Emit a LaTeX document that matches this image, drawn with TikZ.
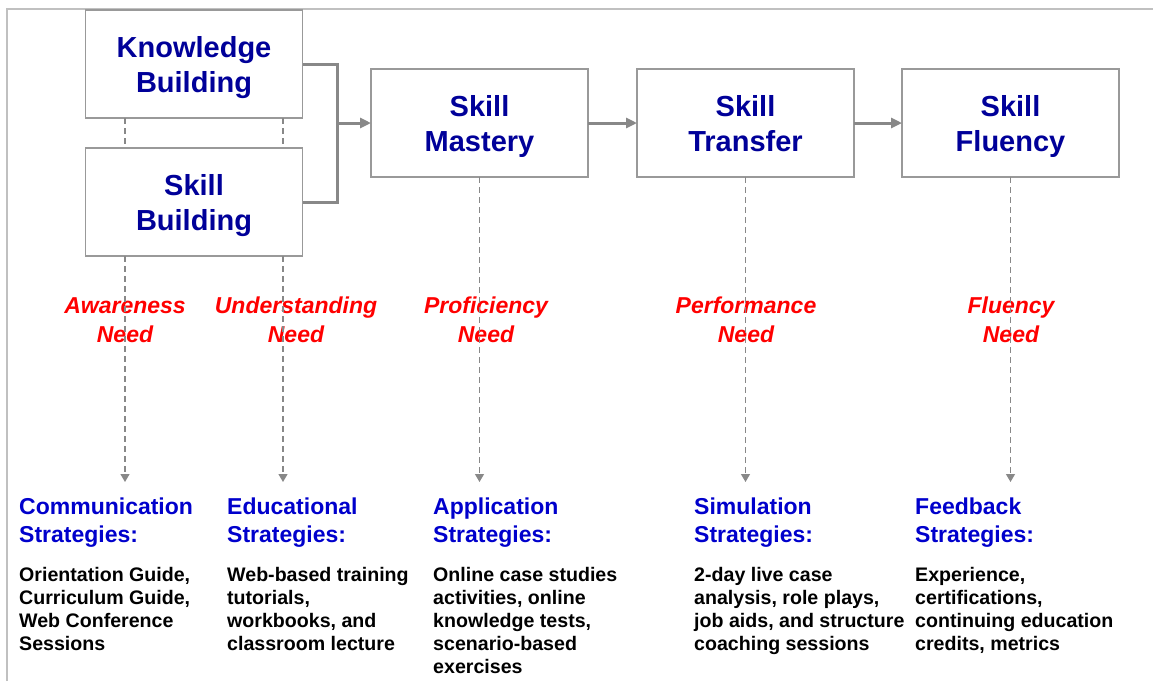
\documentclass[tikz,border=0pt]{standalone}
\usepackage{fontspec}
\setmainfont{Liberation Sans}
\usetikzlibrary{arrows.meta,positioning}
\definecolor{titleblue}{HTML}{000099}
\definecolor{headblue}{HTML}{0000CC}
\definecolor{needred}{HTML}{FF0000}
\definecolor{boxgray}{HTML}{999999}
\definecolor{linkgray}{HTML}{888888}
\definecolor{framegray}{HTML}{C0C0C0}
% two title lines with fixed top and bottom room
\newcommand\stagelines[2]{\rule{0pt}{29pt}#1\\#2\rule[-7pt]{0pt}{7pt}}
\tikzset{
  stage/.style={draw=boxgray, line width=1.4pt, fill=white, minimum width=217pt,
    minimum height=108pt, inner sep=0pt, outer sep=0pt, align=center, text=titleblue,
    font={\fontsize{29}{35}\selectfont\bfseries}},
  bracket/.style={draw=linkgray, line width=3pt},
  flow/.style={bracket, -{Triangle[length=11pt,width=10pt]}},
  link/.style={draw=linkgray, line width=1.2pt, dash pattern=on 5.5pt off 4.5pt},
  need/.style={link, -{Triangle[length=8pt,width=9pt]}},
  needlabel/.style={align=center, inner sep=0pt, text=needred,
    font={\fontsize{23}{29}\selectfont\bfseries\itshape}},
  head/.style={anchor=north west, align=left, inner sep=0pt, text=headblue,
    font={\fontsize{23}{28}\selectfont\bfseries}},
  body/.style={anchor=north west, align=left, inner sep=0pt,
    font={\fontsize{19.6}{23}\selectfont\bfseries}}
}

\begin{document}
\begin{tikzpicture}[x=1pt, y=-1pt]
    \useasboundingbox (0,0) rectangle (1153,681);
    \draw[framegray, line width=2.5pt] (7,681) -- (7,9) -- (1153,9);

    \node[stage] (kb) at (194,64) {\stagelines{Knowledge}{Building}};
    \node[stage, below=30pt of kb] (sb) {\stagelines{Skill}{Building}};
    \node[stage] (sm) at (479.5,123) {\stagelines{Skill}{Mastery}};
    \node[stage, right=49pt of sm] (st) {\stagelines{Skill}{Transfer}};
    \node[stage, right=48pt of st] (sf) {\stagelines{Skill}{Fluency}};

    \coordinate[left=34pt of sm.west] (brk);
    \draw[bracket] (kb.east) -| (brk) |- (sb.east);
    \foreach \from/\to in {brk/sm, sm/st, st/sf}
      \draw[flow] (\from) -- (\to);

    \node[needlabel] (aware) at (125,320) {Awareness\\Need};
    \node[needlabel] (under) at (296,320) {Understanding\\Need};
    \node[needlabel] (profi) at (486,320) {Proficiency\\Need};
    \node[needlabel] (perfo) at (746,320) {Performance\\Need};
    \node[needlabel] (fluen) at (1011,320) {Fluency\\Need};

    \coordinate (n1) at (125,482);
    \coordinate (n2) at (283,482);
    \coordinate (n3) at (sm.south |- n1);
    \coordinate (n4) at (st.south |- n1);
    \coordinate (n5) at (sf.south |- n1);
    \foreach \n in {n1, n2}
      \draw[link] (kb.south -| \n) -- (sb.north -| \n);
    \foreach \from/\to in {sb/n1, sb/n2, sm/n3, st/n4, sf/n5}
      \draw[need] (\from.south -| \to) -- (\to);

    \foreach \x/\n/\title/\list in {
        19/1/{Communication\\Strategies:}/{Orientation Guide,\\Curriculum Guide,\\Web Conference\\Sessions},
        227/2/{Educational\\Strategies:}/{Web-based training\\tutorials,\\workbooks, and\\classroom lecture},
        433/3/{Application\\Strategies:}/{Online case studies\\activities, online\\knowledge tests,\\scenario-based\\exercises},
        694/4/{Simulation\\Strategies:}/{2-day live case\\analysis, role plays,\\job aids, and structure\\coaching sessions},
        915/5/{Feedback\\Strategies:}/{Experience,\\certifications,\\continuing education\\credits, metrics}} {
      \node[head] (head\n) at (\x,498) {\title};
      \node[body] (list\n) at (\x,567) {\list};
    }
  \end{tikzpicture}
\end{document}
